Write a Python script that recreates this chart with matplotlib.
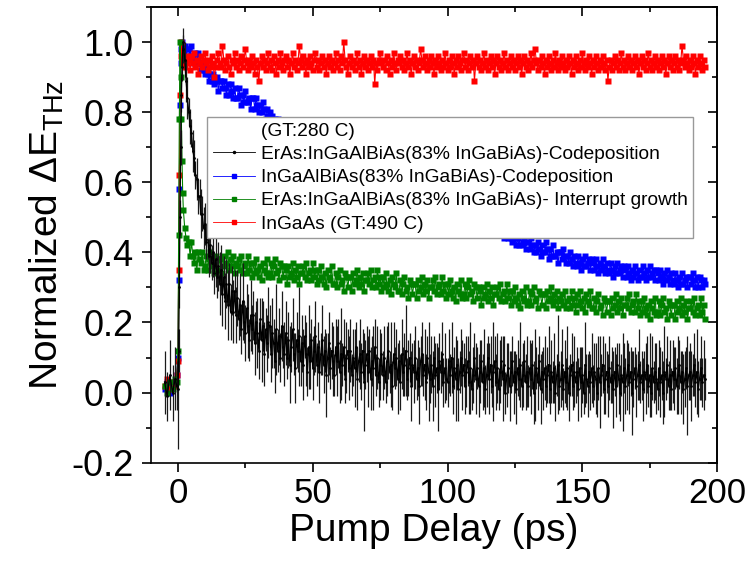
import matplotlib
matplotlib.use("Agg")
import matplotlib.pyplot as plt
import numpy as np
from matplotlib.lines import Line2D
from matplotlib.ticker import MultipleLocator

plt.rcParams['font.family'] = ['Liberation Sans', 'DejaVu Sans']
plt.rcParams['mathtext.fontset'] = 'custom'
plt.rcParams['mathtext.rm'] = 'Liberation Sans'
plt.rcParams['axes.unicode_minus'] = False

# pump delay (ps): fine steps around time zero, then 0.5 ps steps (12 values = 6 ps per row below)
t_early = [-5, -4, -3, -2, -1, -0.5, 0, 0.25, 0.5, 0.75, 1, 1.25, 1.5, 1.75, 2, 2.5, 3, 3.5]
t = np.concatenate([t_early, np.arange(4, 196, 0.5)])

# ErAs:InGaAlBiAs codeposition (black, with error bars)
black = [0.03, -0.01, 0.05, 0.00, 0.04, 0.02, 0.01, 0.12, 0.30, 0.50, 0.70, 0.85, 0.93, 0.98, 1.00, 0.95, 0.89, 0.84,
         0.80, 0.76, 0.74, 0.69, 0.67, 0.62, 0.61, 0.56, 0.56, 0.51, 0.51, 0.47,
         0.48, 0.43, 0.45, 0.39, 0.42, 0.37, 0.40, 0.34, 0.38, 0.33, 0.36, 0.31,
         0.35, 0.28, 0.33, 0.26, 0.31, 0.25, 0.31, 0.23, 0.29, 0.23, 0.29, 0.22,
         0.27, 0.21, 0.25, 0.18, 0.26, 0.20, 0.17, 0.24, 0.19, 0.15, 0.22, 0.18,
         0.22, 0.14, 0.20, 0.17, 0.12, 0.21, 0.15, 0.19, 0.11, 0.18, 0.14, 0.20,
         0.19, 0.11, 0.17, 0.14, 0.09, 0.18, 0.12, 0.16, 0.10, 0.19, 0.13, 0.11,
         0.17, 0.10, 0.15, 0.08, 0.13, 0.18, 0.11, 0.07, 0.15, 0.12, 0.16, 0.09,
         0.14, 0.08, 0.16, 0.11, 0.06, 0.13, 0.09, 0.15, 0.07, 0.12, 0.16, 0.08,
         0.13, 0.06, 0.11, 0.15, 0.08, 0.12, 0.05, 0.10, 0.14, 0.07, 0.12, 0.09,
         0.05, 0.13, 0.09, 0.14, 0.06, 0.11, 0.08, 0.13, 0.04, 0.10, 0.12, 0.07,
         0.12, 0.05, 0.10, 0.07, 0.13, 0.04, 0.09, 0.11, 0.06, 0.12, 0.03, 0.08,
         0.11, 0.06, 0.12, 0.04, 0.09, 0.07, 0.13, 0.05, 0.10, 0.03, 0.08, 0.11,
         0.05, 0.10, 0.03, 0.09, 0.12, 0.06, 0.08, 0.02, 0.11, 0.07, 0.10, 0.04,
         0.09, 0.03, 0.11, 0.06, 0.08, 0.12, 0.04, 0.07, 0.10, 0.02, 0.08, 0.06,
         0.10, 0.04, 0.07, 0.02, 0.09, 0.11, 0.05, 0.08, 0.03, 0.10, 0.06, 0.04,
         0.08, 0.02, 0.10, 0.05, 0.07, 0.01, 0.09, 0.06, 0.11, 0.03, 0.07, 0.04,
         0.03, 0.09, 0.05, 0.10, 0.02, 0.07, 0.04, 0.08, 0.01, 0.06, 0.10, 0.05,
         0.08, 0.02, 0.06, 0.09, 0.03, 0.07, 0.01, 0.05, 0.10, 0.04, 0.07, 0.02,
         0.06, 0.09, 0.03, 0.07, 0.01, 0.05, 0.10, 0.04, 0.08, 0.02, 0.06, 0.09,
         0.03, 0.07, 0.01, 0.06, 0.09, 0.04, 0.08, 0.00, 0.05, 0.07, 0.02, 0.06,
         0.09, 0.03, 0.06, 0.01, 0.07, 0.04, 0.08, 0.02, 0.05, 0.09, 0.03, 0.06,
         0.02, 0.07, 0.04, 0.08, 0.00, 0.05, 0.07, 0.03, 0.09, 0.01, 0.06, 0.04,
         0.07, 0.02, 0.05, 0.08, 0.01, 0.06, 0.03, 0.07, 0.00, 0.05, 0.08, 0.02,
         0.04, 0.08, 0.01, 0.06, 0.03, 0.07, 0.00, 0.05, 0.08, 0.02, 0.06, 0.03,
         0.06, 0.01, 0.07, 0.03, 0.05, 0.00, 0.08, 0.04, 0.02, 0.06, 0.03, 0.07,
         0.02, 0.06, 0.04, 0.00, 0.07, 0.03, 0.05, 0.08, 0.01, 0.04, 0.06, 0.02,
         0.07, 0.03, 0.05, 0.01, 0.06, 0.02, 0.08, 0.04, 0.00, 0.05, 0.03, 0.07,
         0.02, 0.05, 0.08, 0.03, 0.06, 0.00, 0.04, 0.07, 0.02, 0.05, 0.08, 0.03,
         0.05, 0.01, 0.06, 0.04, 0.08, 0.02, 0.05, 0.00, 0.07, 0.03, 0.06, 0.04,
         0.01, 0.07, 0.03, 0.05, 0.00, 0.06, 0.04, 0.08, 0.02, 0.05, 0.01, 0.06,
         0.04, 0.07, 0.02, 0.05, 0.08, 0.03, 0.06, 0.01, 0.04, 0.07, 0.02, 0.05,
         0.06, 0.02, 0.05, 0.08, 0.03, 0.06, 0.01, 0.04, 0.07, 0.03, 0.05, 0.04]
black_err = [0.09, 0.07, 0.10, 0.08, 0.09, 0.07, 0.17, 0.06, 0.06, 0.05, 0.05, 0.05, 0.04, 0.04, 0.04, 0.05, 0.06, 0.06,
             0.04, 0.05, 0.04, 0.06, 0.05, 0.04, 0.06, 0.05, 0.05, 0.07, 0.05, 0.06,
             0.06, 0.05, 0.07, 0.06, 0.08, 0.05, 0.07, 0.06, 0.08, 0.06, 0.07, 0.09,
             0.07, 0.09, 0.06, 0.08, 0.07, 0.10, 0.06, 0.08, 0.07, 0.09, 0.06, 0.08,
             0.08, 0.06, 0.09, 0.07, 0.11, 0.06, 0.08, 0.07, 0.09, 0.06, 0.10, 0.07,
             0.07, 0.09, 0.06, 0.10, 0.08, 0.06, 0.12, 0.07, 0.09, 0.06, 0.08, 0.10,
             0.06, 0.08, 0.10, 0.07, 0.09, 0.13, 0.06, 0.08, 0.07, 0.10, 0.06, 0.09,
             0.09, 0.06, 0.08, 0.11, 0.07, 0.09, 0.06, 0.10, 0.08, 0.06, 0.14, 0.07,
             0.08, 0.10, 0.06, 0.09, 0.07, 0.12, 0.08, 0.06, 0.09, 0.07, 0.10, 0.06,
             0.07, 0.09, 0.06, 0.10, 0.08, 0.06, 0.12, 0.07, 0.09, 0.06, 0.08, 0.10,
             0.06, 0.08, 0.10, 0.07, 0.09, 0.13, 0.06, 0.08, 0.07, 0.10, 0.06, 0.09,
             0.09, 0.06, 0.08, 0.11, 0.07, 0.09, 0.06, 0.10, 0.08, 0.06, 0.14, 0.07,
             0.08, 0.10, 0.06, 0.09, 0.07, 0.12, 0.08, 0.06, 0.09, 0.07, 0.10, 0.06,
             0.07, 0.09, 0.06, 0.10, 0.08, 0.06, 0.12, 0.07, 0.09, 0.06, 0.08, 0.10,
             0.06, 0.08, 0.10, 0.07, 0.09, 0.13, 0.06, 0.08, 0.07, 0.10, 0.06, 0.09,
             0.09, 0.06, 0.08, 0.11, 0.07, 0.09, 0.06, 0.10, 0.08, 0.06, 0.14, 0.07,
             0.08, 0.10, 0.06, 0.09, 0.07, 0.12, 0.08, 0.06, 0.09, 0.07, 0.10, 0.06,
             0.07, 0.09, 0.06, 0.10, 0.08, 0.06, 0.12, 0.07, 0.09, 0.06, 0.08, 0.10,
             0.06, 0.08, 0.10, 0.07, 0.09, 0.13, 0.06, 0.08, 0.07, 0.10, 0.06, 0.09,
             0.09, 0.06, 0.08, 0.11, 0.07, 0.09, 0.06, 0.10, 0.08, 0.06, 0.14, 0.07,
             0.08, 0.10, 0.06, 0.09, 0.07, 0.12, 0.08, 0.06, 0.09, 0.07, 0.10, 0.06,
             0.07, 0.09, 0.06, 0.10, 0.08, 0.06, 0.12, 0.07, 0.09, 0.06, 0.08, 0.10,
             0.06, 0.08, 0.10, 0.07, 0.09, 0.13, 0.06, 0.08, 0.07, 0.10, 0.06, 0.09,
             0.09, 0.06, 0.08, 0.11, 0.07, 0.09, 0.06, 0.10, 0.08, 0.06, 0.14, 0.07,
             0.08, 0.10, 0.06, 0.09, 0.07, 0.12, 0.08, 0.06, 0.09, 0.07, 0.10, 0.06,
             0.07, 0.09, 0.06, 0.10, 0.08, 0.06, 0.12, 0.07, 0.09, 0.06, 0.08, 0.10,
             0.06, 0.08, 0.10, 0.07, 0.09, 0.13, 0.06, 0.08, 0.07, 0.10, 0.06, 0.09,
             0.09, 0.06, 0.08, 0.11, 0.07, 0.09, 0.06, 0.10, 0.08, 0.06, 0.14, 0.07,
             0.08, 0.10, 0.06, 0.09, 0.07, 0.12, 0.08, 0.06, 0.09, 0.07, 0.10, 0.06,
             0.07, 0.09, 0.06, 0.10, 0.08, 0.06, 0.12, 0.07, 0.09, 0.06, 0.08, 0.10,
             0.06, 0.08, 0.10, 0.07, 0.09, 0.13, 0.06, 0.08, 0.07, 0.10, 0.06, 0.09,
             0.09, 0.06, 0.08, 0.11, 0.07, 0.09, 0.06, 0.10, 0.08, 0.06, 0.14, 0.07,
             0.08, 0.10, 0.06, 0.09, 0.07, 0.12, 0.08, 0.06, 0.09, 0.07, 0.10, 0.06]

# InGaAlBiAs codeposition (blue)
blue = [0.01, 0.03, 0.00, 0.02, 0.03, 0.05, 0.10, 0.32, 0.58, 0.82, 0.94, 0.98, 1.00, 0.99, 0.97, 0.99, 0.96, 0.98,
        0.98, 0.96, 0.99, 0.96, 0.94, 0.97, 0.94, 0.97, 0.94, 0.92, 0.94, 0.92,
        0.91, 0.94, 0.91, 0.89, 0.91, 0.89, 0.91, 0.88, 0.89, 0.90, 0.86, 0.89,
        0.89, 0.87, 0.89, 0.87, 0.85, 0.88, 0.85, 0.88, 0.86, 0.84, 0.87, 0.84,
        0.84, 0.87, 0.85, 0.82, 0.85, 0.83, 0.86, 0.83, 0.83, 0.84, 0.81, 0.84,
        0.84, 0.81, 0.84, 0.82, 0.80, 0.82, 0.80, 0.83, 0.81, 0.78, 0.81, 0.79,
        0.80, 0.78, 0.79, 0.77, 0.78, 0.76, 0.78, 0.77, 0.76, 0.77, 0.75, 0.76,
        0.77, 0.75, 0.76, 0.74, 0.75, 0.76, 0.74, 0.75, 0.73, 0.74, 0.75, 0.73,
        0.74, 0.72, 0.73, 0.74, 0.72, 0.73, 0.71, 0.72, 0.73, 0.71, 0.72, 0.70,
        0.71, 0.72, 0.70, 0.71, 0.69, 0.70, 0.71, 0.69, 0.70, 0.68, 0.69, 0.70,
        0.68, 0.69, 0.67, 0.68, 0.69, 0.67, 0.68, 0.66, 0.67, 0.68, 0.66, 0.67,
        0.66, 0.67, 0.65, 0.66, 0.64, 0.65, 0.66, 0.64, 0.65, 0.63, 0.64, 0.65,
        0.63, 0.64, 0.62, 0.63, 0.64, 0.62, 0.63, 0.61, 0.62, 0.63, 0.61, 0.62,
        0.61, 0.62, 0.60, 0.61, 0.59, 0.60, 0.61, 0.59, 0.60, 0.58, 0.59, 0.60,
        0.58, 0.59, 0.57, 0.58, 0.59, 0.57, 0.58, 0.56, 0.57, 0.58, 0.56, 0.57,
        0.56, 0.57, 0.55, 0.56, 0.54, 0.55, 0.56, 0.54, 0.55, 0.53, 0.54, 0.55,
        0.53, 0.54, 0.52, 0.53, 0.54, 0.52, 0.53, 0.51, 0.52, 0.53, 0.51, 0.52,
        0.51, 0.52, 0.50, 0.51, 0.49, 0.50, 0.51, 0.49, 0.50, 0.48, 0.49, 0.50,
        0.48, 0.49, 0.47, 0.48, 0.49, 0.47, 0.48, 0.46, 0.47, 0.48, 0.46, 0.47,
        0.47, 0.48, 0.46, 0.47, 0.48, 0.46, 0.47, 0.45, 0.46, 0.47, 0.45, 0.46,
        0.46, 0.47, 0.45, 0.46, 0.45, 0.46, 0.44, 0.45, 0.46, 0.44, 0.45, 0.44,
        0.43, 0.46, 0.44, 0.42, 0.44, 0.42, 0.45, 0.42, 0.43, 0.44, 0.41, 0.43,
        0.43, 0.41, 0.44, 0.42, 0.40, 0.42, 0.40, 0.43, 0.41, 0.39, 0.42, 0.40,
        0.40, 0.43, 0.41, 0.38, 0.41, 0.39, 0.42, 0.39, 0.39, 0.40, 0.37, 0.40,
        0.40, 0.38, 0.41, 0.39, 0.37, 0.39, 0.37, 0.40, 0.38, 0.36, 0.39, 0.37,
        0.36, 0.39, 0.37, 0.35, 0.38, 0.36, 0.39, 0.36, 0.37, 0.38, 0.35, 0.38,
        0.37, 0.35, 0.38, 0.36, 0.34, 0.37, 0.35, 0.38, 0.36, 0.34, 0.37, 0.35,
        0.34, 0.37, 0.35, 0.33, 0.36, 0.34, 0.37, 0.34, 0.35, 0.36, 0.33, 0.36,
        0.35, 0.33, 0.36, 0.34, 0.32, 0.35, 0.33, 0.36, 0.34, 0.32, 0.35, 0.33,
        0.33, 0.36, 0.34, 0.32, 0.35, 0.33, 0.36, 0.33, 0.34, 0.35, 0.32, 0.35,
        0.34, 0.32, 0.35, 0.33, 0.31, 0.34, 0.32, 0.35, 0.33, 0.31, 0.34, 0.32,
        0.31, 0.34, 0.32, 0.30, 0.33, 0.31, 0.34, 0.31, 0.32, 0.33, 0.30, 0.33,
        0.33, 0.31, 0.34, 0.32, 0.30, 0.33, 0.30, 0.33, 0.32, 0.30, 0.32, 0.31]

# ErAs:InGaAlBiAs interrupt growth (green)
green = [0.02, 0.00, 0.03, 0.01, 0.04, 0.03, 0.12, 0.45, 0.78, 1.00, 0.90, 0.78, 0.66, 0.57, 0.52, 0.47, 0.44, 0.42,
         0.43, 0.39, 0.43, 0.39, 0.37, 0.40, 0.35, 0.40, 0.38, 0.37, 0.40, 0.35,
         0.36, 0.39, 0.35, 0.38, 0.40, 0.36, 0.37, 0.34, 0.39, 0.38, 0.35, 0.38,
         0.38, 0.34, 0.39, 0.36, 0.37, 0.40, 0.35, 0.38, 0.36, 0.39, 0.34, 0.37,
         0.36, 0.38, 0.35, 0.39, 0.34, 0.36, 0.37, 0.34, 0.39, 0.35, 0.37, 0.33,
         0.37, 0.34, 0.38, 0.35, 0.33, 0.36, 0.32, 0.37, 0.35, 0.34, 0.38, 0.33,
         0.34, 0.37, 0.33, 0.36, 0.38, 0.34, 0.35, 0.32, 0.37, 0.36, 0.33, 0.36,
         0.35, 0.31, 0.36, 0.33, 0.34, 0.37, 0.32, 0.35, 0.33, 0.36, 0.31, 0.34,
         0.34, 0.36, 0.33, 0.37, 0.32, 0.34, 0.35, 0.32, 0.37, 0.33, 0.35, 0.31,
         0.35, 0.32, 0.36, 0.33, 0.31, 0.34, 0.30, 0.35, 0.33, 0.32, 0.36, 0.31,
         0.31, 0.34, 0.30, 0.33, 0.35, 0.31, 0.32, 0.29, 0.34, 0.33, 0.30, 0.33,
         0.33, 0.29, 0.34, 0.31, 0.32, 0.35, 0.30, 0.33, 0.31, 0.34, 0.29, 0.32,
         0.32, 0.34, 0.31, 0.35, 0.30, 0.32, 0.33, 0.30, 0.35, 0.31, 0.33, 0.29,
         0.33, 0.30, 0.34, 0.31, 0.29, 0.32, 0.28, 0.33, 0.31, 0.30, 0.34, 0.29,
         0.29, 0.32, 0.28, 0.31, 0.33, 0.29, 0.30, 0.27, 0.32, 0.31, 0.28, 0.31,
         0.31, 0.27, 0.32, 0.29, 0.30, 0.33, 0.28, 0.31, 0.29, 0.32, 0.27, 0.30,
         0.30, 0.32, 0.29, 0.33, 0.28, 0.30, 0.31, 0.28, 0.33, 0.29, 0.31, 0.27,
         0.31, 0.28, 0.32, 0.29, 0.27, 0.30, 0.26, 0.31, 0.29, 0.28, 0.32, 0.27,
         0.28, 0.31, 0.27, 0.30, 0.32, 0.28, 0.29, 0.26, 0.31, 0.30, 0.27, 0.30,
         0.29, 0.25, 0.30, 0.27, 0.28, 0.31, 0.26, 0.29, 0.27, 0.30, 0.25, 0.28,
         0.28, 0.30, 0.27, 0.31, 0.26, 0.28, 0.29, 0.26, 0.31, 0.27, 0.29, 0.25,
         0.29, 0.26, 0.30, 0.27, 0.25, 0.28, 0.24, 0.29, 0.27, 0.26, 0.30, 0.25,
         0.26, 0.29, 0.25, 0.28, 0.30, 0.26, 0.27, 0.24, 0.29, 0.28, 0.25, 0.28,
         0.28, 0.24, 0.29, 0.26, 0.27, 0.30, 0.25, 0.28, 0.26, 0.29, 0.24, 0.27,
         0.26, 0.28, 0.25, 0.29, 0.24, 0.26, 0.27, 0.24, 0.29, 0.25, 0.27, 0.23,
         0.28, 0.25, 0.29, 0.26, 0.24, 0.27, 0.23, 0.28, 0.26, 0.25, 0.29, 0.24,
         0.24, 0.27, 0.23, 0.26, 0.28, 0.24, 0.25, 0.22, 0.27, 0.26, 0.23, 0.26,
         0.26, 0.22, 0.27, 0.24, 0.25, 0.28, 0.23, 0.26, 0.24, 0.27, 0.22, 0.25,
         0.25, 0.27, 0.24, 0.28, 0.23, 0.25, 0.26, 0.23, 0.28, 0.24, 0.26, 0.22,
         0.26, 0.23, 0.27, 0.24, 0.22, 0.25, 0.21, 0.26, 0.24, 0.23, 0.27, 0.22,
         0.23, 0.26, 0.22, 0.25, 0.27, 0.23, 0.24, 0.21, 0.26, 0.25, 0.22, 0.25,
         0.25, 0.21, 0.26, 0.23, 0.24, 0.27, 0.22, 0.25, 0.23, 0.26, 0.21, 0.24,
         0.24, 0.26, 0.23, 0.27, 0.22, 0.24, 0.25, 0.22, 0.27, 0.23, 0.25, 0.21]

# InGaAs GT:490 C (red)
red = [0.02, 0.04, 0.01, 0.03, 0.02, 0.05, 0.09, 0.35, 0.62, 0.85, 0.96, 1.00, 0.97, 0.94, 0.95, 0.93, 0.96, 0.94,
       0.95, 0.92, 0.96, 0.94, 0.97, 0.93, 0.95, 0.91, 0.94, 0.96, 0.93, 0.95,
       0.97, 0.94, 0.92, 0.95, 0.93, 0.96, 0.94, 0.90, 0.93, 0.95, 0.97, 0.94,
       0.93, 0.99, 0.95, 0.92, 0.94, 0.96, 0.93, 0.91, 0.95, 0.94, 0.97, 0.93,
       0.95, 0.92, 0.94, 0.96, 0.93, 0.95, 0.98, 0.94, 0.92, 0.95, 0.93, 0.96,
       0.94, 0.91, 0.95, 0.93, 0.89, 0.94, 0.96, 0.93, 0.95, 0.92, 0.94, 0.97,
       0.93, 0.95, 0.92, 0.96, 0.94, 0.91, 0.95, 0.93, 0.97, 0.94, 0.92, 0.95,
       0.96, 0.93, 0.95, 0.91, 0.94, 0.97, 0.93, 0.95, 0.92, 0.94, 0.99, 0.95,
       0.93, 0.96, 0.94, 0.91, 0.95, 0.93, 0.96, 0.94, 0.92, 0.95, 0.97, 0.93,
       0.95, 0.92, 0.94, 0.96, 0.93, 0.95, 0.91, 0.94, 0.96, 0.93, 0.95, 0.92,
       0.94, 0.97, 0.93, 0.95, 0.92, 0.96, 0.94, 1.00, 0.95, 0.93, 0.91, 0.94,
       0.96, 0.93, 0.95, 0.92, 0.94, 0.97, 0.93, 0.95, 0.91, 0.94, 0.96, 0.93,
       0.95, 0.92, 0.94, 0.96, 0.93, 0.95, 0.88, 0.94, 0.92, 0.95, 0.97, 0.94,
       0.93, 0.95, 0.92, 0.96, 0.94, 0.91, 0.95, 0.93, 0.97, 0.94, 0.92, 0.95,
       0.94, 0.96, 0.93, 0.95, 0.92, 0.94, 0.97, 0.93, 0.95, 0.91, 0.94, 0.96,
       0.93, 0.95, 0.92, 0.94, 0.98, 0.95, 0.93, 0.96, 0.94, 0.92, 0.95, 0.93,
       0.96, 0.94, 0.91, 0.95, 0.93, 0.96, 0.94, 0.92, 0.95, 0.93, 0.97, 0.94,
       0.92, 0.95, 0.93, 0.96, 0.94, 0.91, 0.95, 0.93, 0.96, 0.94, 0.92, 0.95,
       0.97, 0.93, 0.95, 0.92, 0.94, 0.96, 0.93, 0.95, 0.89, 0.94, 0.96, 0.93,
       0.95, 0.92, 0.94, 0.97, 0.93, 0.95, 0.92, 0.94, 0.96, 0.93, 0.95, 0.91,
       0.94, 0.96, 0.93, 0.95, 0.92, 0.94, 0.97, 0.93, 0.95, 0.92, 0.94, 0.96,
       0.93, 0.95, 0.92, 0.94, 0.96, 0.93, 0.95, 0.91, 0.94, 0.96, 0.93, 0.95,
       0.92, 0.94, 0.97, 0.93, 0.95, 0.98, 0.94, 0.92, 0.95, 0.93, 0.96, 0.94,
       0.91, 0.95, 0.93, 0.96, 0.94, 0.92, 0.95, 0.93, 0.97, 0.94, 0.92, 0.95,
       0.93, 0.96, 0.94, 0.92, 0.95, 0.93, 0.96, 0.94, 0.91, 0.95, 0.93, 0.96,
       0.94, 0.92, 0.95, 0.93, 0.97, 0.94, 0.92, 0.95, 0.93, 0.96, 0.94, 0.91,
       0.95, 0.93, 0.96, 0.94, 0.92, 0.95, 0.93, 0.96, 0.94, 0.92, 0.95, 0.89,
       0.93, 0.95, 0.92, 0.94, 0.96, 0.93, 0.95, 0.92, 0.94, 0.97, 0.93, 0.95,
       0.92, 0.94, 0.96, 0.93, 0.95, 0.92, 0.94, 0.96, 0.93, 0.95, 0.91, 0.94,
       0.96, 0.93, 0.95, 0.92, 0.94, 0.97, 0.93, 0.95, 0.92, 0.94, 0.96, 0.93,
       0.95, 0.92, 0.94, 0.96, 0.93, 0.95, 0.91, 0.94, 0.96, 0.93, 0.95, 0.92,
       0.94, 0.96, 0.93, 0.95, 0.92, 0.94, 0.99, 0.95, 0.93, 0.96, 0.94, 0.92,
       0.95, 0.93, 0.96, 0.94, 0.91, 0.95, 0.93, 0.96, 0.94, 0.92, 0.95, 0.93]

labels = ["(GT:280 C)",
          "ErAs:InGaAlBiAs(83% InGaBiAs)-Codeposition",
          "InGaAlBiAs(83% InGaBiAs)-Codeposition",
          "ErAs:InGaAlBiAs(83% InGaBiAs)- Interrupt growth",
          "InGaAs (GT:490 C)"]

fig = plt.figure(figsize=(7.54, 5.63), dpi=100)
ax = fig.add_axes([0.2003, 0.1782, 0.7507, 0.8094])

ms = 3.8
ax.plot(t, blue, color='#0000ff', lw=0.8, marker='s', ms=ms, mec='none')
ax.plot(t, red, color='#ff0000', lw=0.8, marker='s', ms=ms, mec='none')
ax.plot(t, green, color='#008000', lw=0.8, marker='s', ms=ms, mec='none')
ax.errorbar(t, black, yerr=black_err, color='black', ecolor='#1a1a1a', elinewidth=0.9,
            lw=0.9, marker='.', ms=2, capsize=0)

ax.set_xlim(-10, 200)
ax.set_ylim(-0.2, 1.1)
ax.xaxis.set_major_locator(MultipleLocator(50))
ax.xaxis.set_minor_locator(MultipleLocator(25))
ax.yaxis.set_major_locator(MultipleLocator(0.2))
ax.yaxis.set_minor_locator(MultipleLocator(0.1))
ax.yaxis.set_major_formatter(plt.FormatStrFormatter('%.1f'))

for s in ax.spines.values():
    s.set_linewidth(1.2)
ax.tick_params(which='both', direction='out', width=1.2)
ax.tick_params(which='major', length=6.5)
ax.tick_params(which='minor', length=3.5)
ax.tick_params(axis='x', labelsize=25, pad=4)
ax.tick_params(axis='y', labelsize=26, pad=6)

# top and right ticks point inwards
top = ax.secondary_xaxis('top')
top.xaxis.set_major_locator(MultipleLocator(50))
top.xaxis.set_minor_locator(MultipleLocator(25))
right = ax.secondary_yaxis('right')
right.yaxis.set_major_locator(MultipleLocator(0.2))
right.yaxis.set_minor_locator(MultipleLocator(0.1))
for sec in (top, right):
    sec.tick_params(which='both', direction='in', width=1.2, labeltop=False, labelright=False)
    sec.tick_params(which='major', length=6.5)
    sec.tick_params(which='minor', length=3.5)
    for s in sec.spines.values():
        s.set_linewidth(1.2)

ax.set_xlabel("Pump Delay (ps)", fontsize=28, labelpad=2)
ax.set_ylabel("Normalized ΔE$_{\\mathrm{THz}}$", fontsize=28, labelpad=4)

handles = [Line2D([], [], linestyle='none'),
           Line2D([], [], color='black', lw=0.6, marker='.', ms=3),
           Line2D([], [], color='#0000ff', lw=0.6, marker='s', ms=3.5),
           Line2D([], [], color='#008000', lw=0.6, marker='s', ms=3.5),
           Line2D([], [], color='#ff0000', lw=0.6, marker='s', ms=3.5)]
leg = ax.legend(handles, labels, loc='upper left', bbox_to_anchor=(0.099, 0.759),
                borderaxespad=0, fontsize=13.8, handlelength=2.2, handletextpad=0.3,
                labelspacing=0.3, borderpad=0.3, fancybox=False, framealpha=1)
leg.get_frame().set_edgecolor('#999999')
leg.get_frame().set_linewidth(1.0)

fig.savefig("out.png", dpi=100)
